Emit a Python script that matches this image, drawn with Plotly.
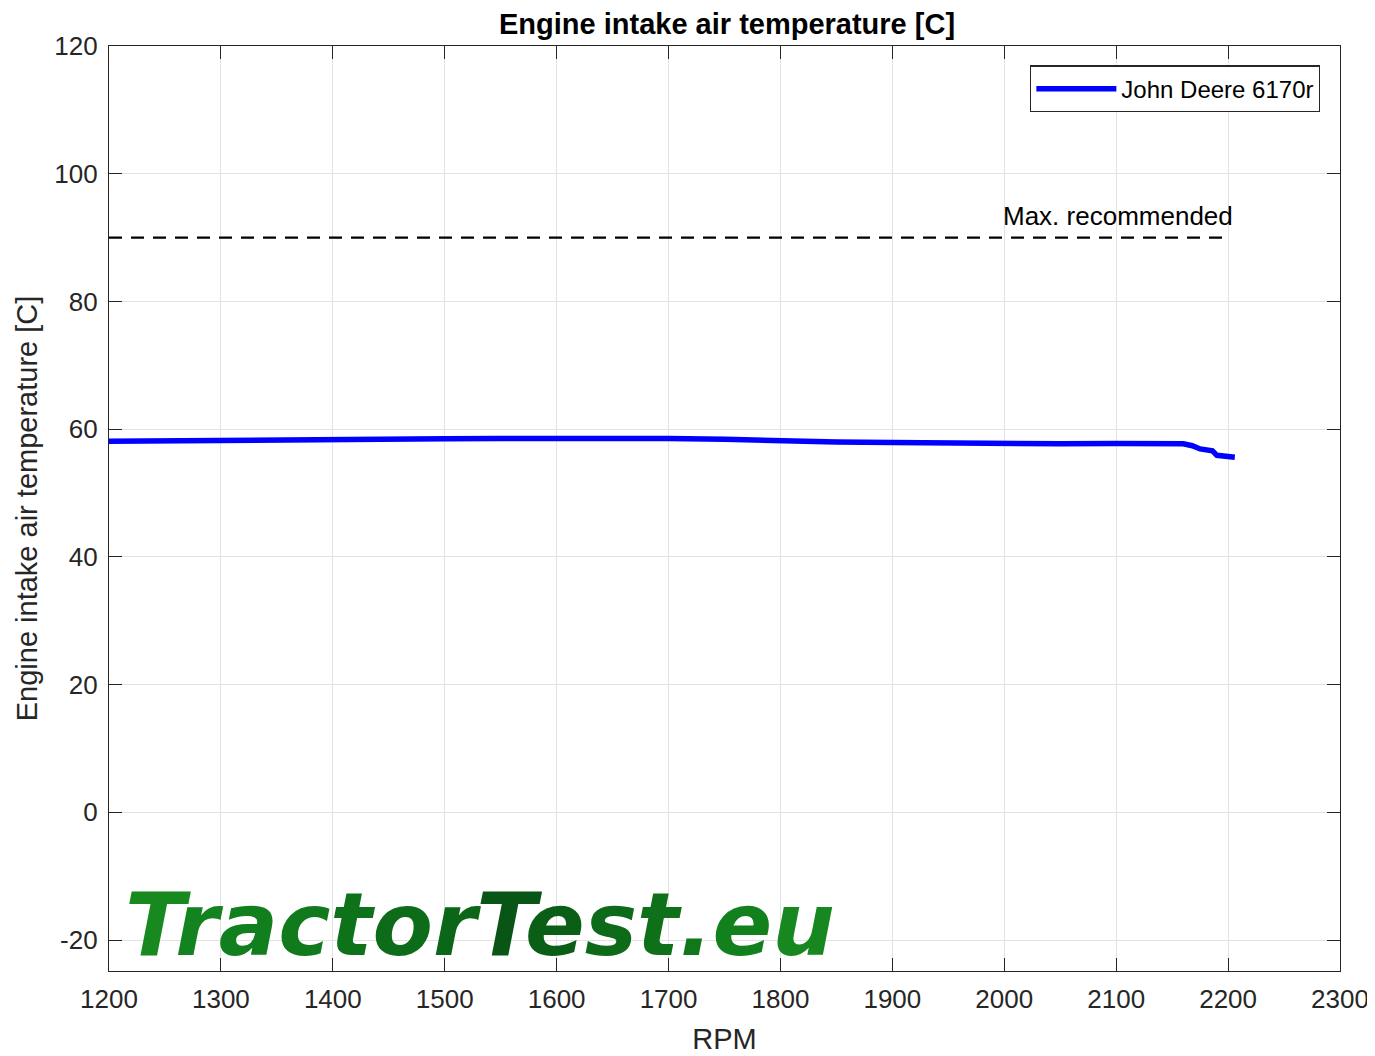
import plotly.graph_objects as go

# ---- data ----
rpm = [1200, 1250, 1300, 1350, 1400, 1450, 1500, 1550, 1600, 1650, 1700, 1750,
       1800, 1850, 1900, 1950, 2000, 2050, 2100, 2150, 2160, 2168, 2175, 2186,
       2190, 2206]
temp = [58.1, 58.2, 58.3, 58.4, 58.5, 58.45, 58.5, 58.55, 58.6, 58.6, 58.55, 58.4,
        58.1, 58.0, 57.9, 57.8, 57.7, 57.7, 57.75, 57.8, 57.7, 57.4, 56.9, 56.6,
        55.9, 55.6]
max_rpm = [1200, 2200]
max_temp = [90, 90]
series_name = "John Deere 6170r"
x_ticks = [1200, 1300, 1400, 1500, 1600, 1700, 1800, 1900, 2000, 2100, 2200, 2300]
y_ticks = [-20, 0, 20, 40, 60, 80, 100, 120]
y_ticktext = ["-20", "0", "20", "40", "60", "80", "100", "120"]
logo_letters = list("TractorTest.eu")
logo_colors = ["#17891f", "#138320", "#127f1e", "#107a1c", "#0e721a", "#0d6c19",
               "#0b6617", "#095515", "#0a5e16", "#0c6a18", "#0e7019", "#10781b",
               "#13801e", "#16881f"]

FONT = "Liberation Sans, Arial, sans-serif"
AX = "#262626"

fig = go.Figure()
fig.add_trace(go.Scatter(x=max_rpm, y=max_temp, mode="lines",
                         line=dict(color="black", width=2.4, dash="13px,9px"),
                         showlegend=False, hoverinfo="skip"))
fig.add_trace(go.Scatter(x=rpm, y=temp, mode="lines", name=series_name,
                         line=dict(color="#0000ff", width=5.5)))

fig.add_annotation(x=2206, y=90, xref="x", yref="y", text="Max. recommended",
                   showarrow=False, xanchor="right", yanchor="bottom", yshift=5,
                   font=dict(family=FONT, size=26, color="black"))

logo = "".join(f'<span style="color:{c}">{ch}</span>' for ch, c in zip(logo_letters, logo_colors))
fig.add_annotation(x=0.011, y=-17.6, xref="paper", yref="y", text=f"<b><i>{logo}</i></b>",
                   showarrow=False, xanchor="left", yanchor="middle",
                   font=dict(family="DejaVu Sans, sans-serif", size=88, color="#107a1c"))

axis_common = dict(showline=True, linecolor=AX, linewidth=1.3, mirror="ticks",
                   ticks="inside", ticklen=13, tickwidth=1.3, tickcolor=AX,
                   showgrid=True, gridcolor="#e2e2e2", gridwidth=1, zeroline=False,
                   tickfont=dict(family=FONT, size=26, color=AX))

# page body has an 8px margin, so the figure is shrunk by 8px and margins adjusted
fig.update_layout(
    width=1367, height=1048,
    paper_bgcolor="white", plot_bgcolor="white",
    margin=dict(l=101, r=35, t=38, b=85, autoexpand=False),
    title=dict(text="<b>Engine intake air temperature [C]</b>", x=0.526, xanchor="center",
               y=0.985, yanchor="middle", font=dict(family=FONT, size=29, color="black")),
    xaxis=dict(range=[1200, 2300], tickvals=x_ticks, ticklabelstandoff=5,
               title=dict(text="RPM", font=dict(family=FONT, size=29, color=AX), standoff=15),
               **axis_common),
    yaxis=dict(range=[-24.85, 120], tickvals=y_ticks, ticktext=y_ticktext, ticklabelstandoff=5,
               title=dict(text="Engine intake air temperature [C]",
                          font=dict(family=FONT, size=29, color=AX), standoff=8),
               **axis_common),
    legend=dict(x=0.9838, y=0.979, xanchor="right", yanchor="top",
                bgcolor="white", bordercolor="#262626", borderwidth=1.3,
                font=dict(family=FONT, size=24, color="black"), itemwidth=80),
    showlegend=True,
)

fig.write_html("out.html")
